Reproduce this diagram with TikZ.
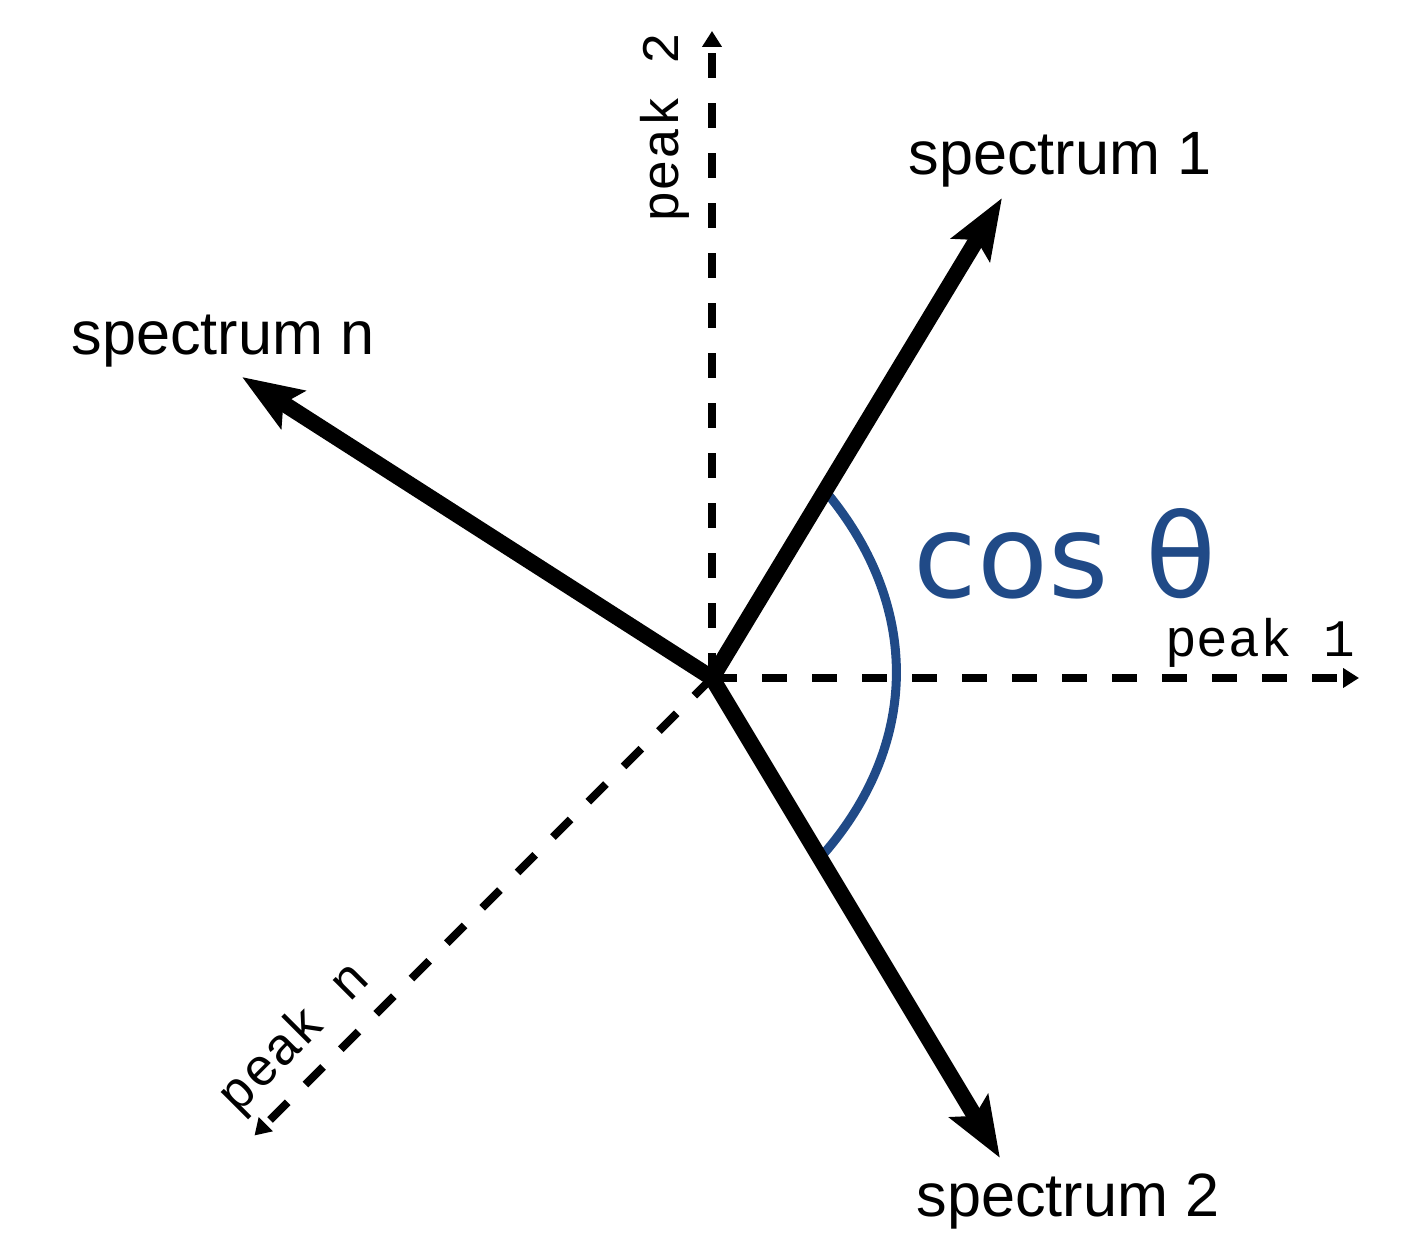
\documentclass[tikz,border=0pt]{standalone}
\usepackage{fontspec}
\setmainfont{Liberation Sans}
\newfontfamily\peakfont{Liberation Mono}
\newfontfamily\anglefont{DejaVu Sans}
\usetikzlibrary{arrows.meta,calc}
\definecolor{angleblue}{HTML}{204A87}

\begin{document}
\begin{tikzpicture}[
  vec/.style={line width=1.6mm, -{Stealth[length=6mm,width=4.4mm,inset=1.1mm]}},
  axis/.style={line width=0.8mm, dash pattern=on 2.5mm off 2.5mm, -{Triangle[length=1.6mm,width=1.9mm]}},
  speclabel/.style={font=\fontsize{17.4}{20}\selectfont, anchor=base},
  peaklabel/.style={font=\peakfont\fontsize{15}{18}\selectfont, anchor=base}
]
\useasboundingbox (0,0) rectangle (14.15,12.39);

% Define parameters
\def\axislen{6.47}

% common origin of all vectors
\coordinate (O) at (7.12,5.61);

% ===== PEAK AXES =====
\coordinate (p1) at ($(O)+(0:\axislen)$);
\coordinate (p2) at ($(O)+(90:\axislen)$);
\coordinate (pn) at ($(O)+(225:\axislen)$);

\draw[axis] (O) -- (p1);
\draw[axis] (O) -- (p2);
\draw[axis] (O) -- (pn);

\node[peaklabel] (lp1) at (12.60,5.82) {peak 1};
\node[peaklabel, rotate=90] (lp2) at (6.78,11.11) {peak 2};
\node[peaklabel, rotate=45] (lpn) at (3.05,1.91) {peak n};

% ===== SPECTRUM VECTORS =====
\coordinate (s1) at (10.02,10.41);
\coordinate (s2) at (10.00,0.81);
\coordinate (sn) at (2.42,8.62);

% angle between spectrum 1 and spectrum 2
\draw[angleblue, line width=0.9mm] ($(O)!0.39!(s1)$) .. controls (9.21,6.34) and (9.21,4.94) .. ($(O)!0.375!(s2)$);
\node[font=\anglefont\fontsize{33}{39}\selectfont, text=angleblue, anchor=base] (cos) at (10.65,6.41) {cos θ};

\draw[vec] (O) -- (s1);
\draw[vec] (O) -- (s2);
\draw[vec] (O) -- (sn);

\node[speclabel] (ls1) at (10.60,10.64) {spectrum 1};
\node[speclabel] (ls2) at (10.68,0.22) {spectrum 2};
\node[speclabel] (lsn) at (2.23,8.84) {spectrum n};

\end{tikzpicture}
\end{document}
